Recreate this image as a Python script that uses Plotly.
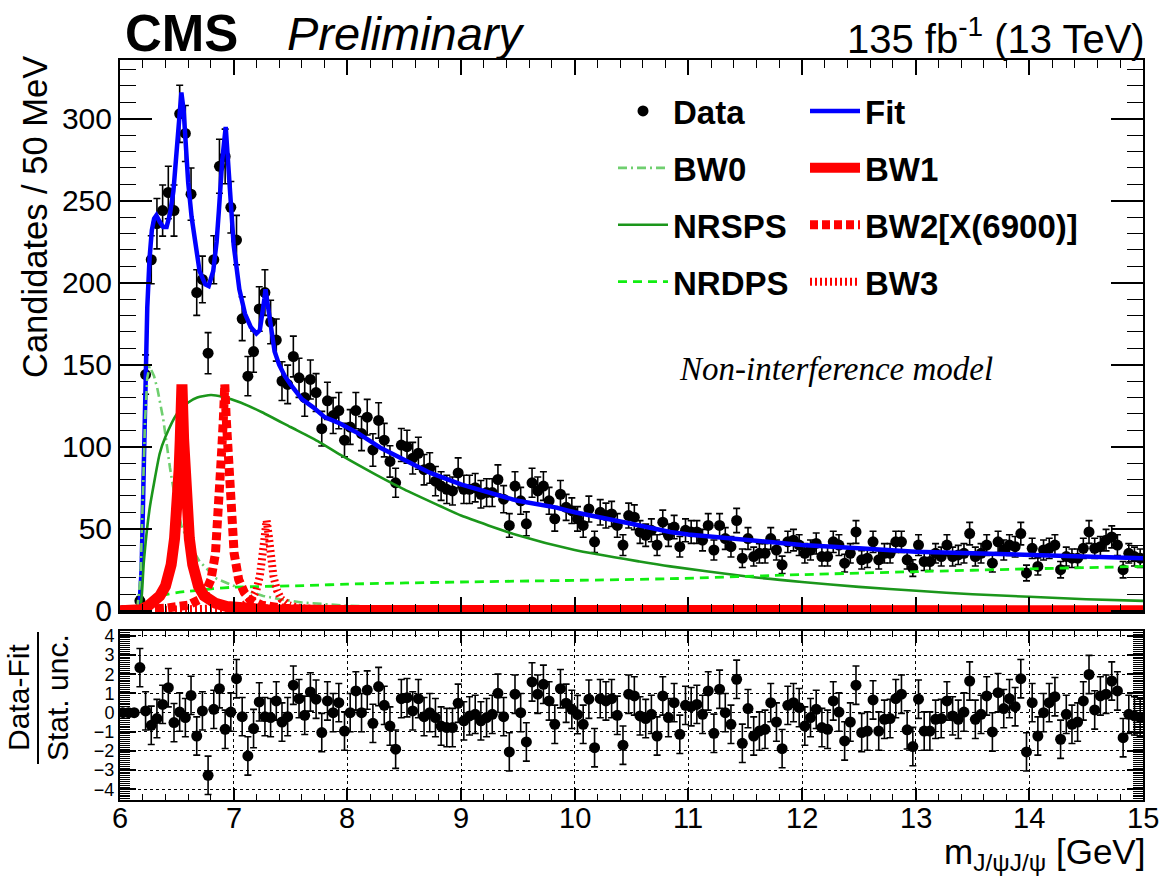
import numpy as np
import plotly.graph_objects as go

# ---------------- data ----------------
x_lo, x_hi, bin_w = 6.0, 15.0, 0.05

counts = [0, 0, 0, 6, 144, 214, 236, 244, 255, 244,
          303, 291, 254, 194, 202, 157, 214, 271, 277, 246,
          226, 178, 143, 158, 184, 194, 176, 165, 140, 138,
          155, 142, 130, 141, 133, 111, 128, 119, 122, 104,
          112, 122, 108, 118, 98, 116, 104, 91, 78, 101,
          100, 93, 96, 86, 87, 79, 76, 74, 73, 84,
          74, 74, 75, 71, 72, 72, 80, 68, 52, 76,
          67, 53, 78, 73, 76, 67, 56, 71, 63, 61,
          56, 52, 62, 42, 60, 58, 59, 52, 40, 58,
          57, 48, 46, 49, 40, 54, 46, 51, 39, 49,
          48, 48, 43, 52, 37, 52, 44, 39, 55, 32,
          44, 33, 35, 35, 44, 37, 28, 42, 43, 40,
          35, 37, 41, 33, 33, 42, 40, 29, 35, 48,
          31, 32, 42, 31, 35, 35, 42, 42, 31, 26,
          40, 30, 30, 35, 33, 40, 33, 34, 35, 47,
          33, 35, 40, 29, 42, 37, 40, 39, 47, 23,
          38, 27, 37, 38, 40, 25, 33, 32, 32, 38,
          48, 38, 39, 43, 45, 40, 25, 35, 33, 32]

pulls = [0, 0, 0, 2.35, 0.09, -0.66, -0.31, 0.43, 1.30, -0.52,
         0.03, -0.26, 0.90, -1.22, 0.09, -3.27, 0.17, 1.25, -0.87, 0.03,
         1.77, -0.21, -2.26, -0.83, 0.56, -0.21, -0.26, 0.61, -0.49, -0.21,
         1.43, 0.73, -0.14, 1.08, 0.70, -1.04, 0.61, 0.00, 0.52, -0.96,
         0.00, 1.13, 0.00, 1.18, -0.56, 1.36, 0.38, -0.70, -1.91, 0.73,
         0.78, 0.09, 0.73, -0.21, 0.00, -0.26, -0.70, -0.78, -0.78, 0.49,
         -0.43, -0.17, -0.09, -0.43, -0.26, -0.09, 1.01, -0.21, -2.05, 0.96,
         0.00, -1.53, 1.60, 0.96, 1.48, 0.61, -0.61, 1.25, 0.49, 0.17,
         -0.10, -0.61, 0.70, -1.83, 0.73, 0.61, 0.73, -0.14, -1.70, 0.96,
         0.87, -0.17, -0.31, -0.09, -1.22, 0.87, -0.26, 0.52, -1.13, 0.38,
         0.31, 0.43, -0.09, 1.13, -1.08, 1.22, 0.00, -0.61, 1.74, -1.60,
         0.21, -1.22, -0.96, -0.87, 0.52, -0.49, -1.88, 0.38, 0.52, 0.26,
         -0.70, -0.26, 0.17, -0.78, -0.87, 0.61, 0.03, -1.48, -0.49, 1.43,
         -1.04, -0.96, 0.66, -0.96, -0.35, -0.31, 0.73, 0.96, -0.90, -1.77,
         0.70, -0.96, -0.96, -0.35, -0.31, 0.61, -0.17, -0.35, 0.03, 1.65,
         -0.35, -0.09, 0.87, -1.01, 1.04, 0.21, 0.73, 0.31, 1.77, -2.05,
         0.52, -1.22, 0.00, 0.52, 0.83, -1.39, -0.09, -0.61, -0.49, 0.61,
         1.99, 0.14, 0.87, 0.96, 1.65, 1.13, -1.31, -0.09, -0.17, -0.26]

fit_x = [6.00, 6.15, 6.17, 6.19, 6.21, 6.225, 6.24, 6.26, 6.28, 6.30,
         6.32, 6.35, 6.38, 6.41, 6.44, 6.47, 6.50, 6.52, 6.54, 6.56,
         6.58, 6.60, 6.63, 6.65, 6.70, 6.75, 6.78, 6.82, 6.85, 6.87,
         6.90, 6.93, 6.96, 6.98, 7.00, 7.05, 7.10, 7.15, 7.20, 7.23,
         7.25, 7.27, 7.28, 7.30, 7.32, 7.36, 7.40, 7.45, 7.50, 7.60,
         7.70, 7.80, 7.94, 8.10, 8.30, 8.50, 8.73, 9.00, 9.25, 9.50,
         9.83, 10.0, 10.5, 10.84, 11.0, 11.5, 12.0, 12.5, 13.0, 13.5,
         14.0, 14.5, 15.0]
fit_y = [0, 0, 1, 25, 90, 144, 185, 215, 232, 239,
         241, 237, 234, 234, 242, 256, 280, 300, 316, 305,
         282, 261, 240, 230, 207, 199, 198, 207, 225, 244,
         275, 295, 261, 240, 223, 196, 181, 173, 169, 171,
         179, 190, 196, 186, 174, 158, 150, 143, 138, 129,
         124, 118, 114, 108, 99, 92, 84, 77, 72, 67,
         63, 60, 53, 48, 46.5, 43, 40, 38, 36, 35,
         34, 33, 32]

bw0_x = [6.0, 6.15, 6.18, 6.20, 6.22, 6.24, 6.26, 6.30, 6.33, 6.38, 6.44, 6.49,
         6.54, 6.60, 6.70, 6.85, 7.06, 7.26, 7.41, 7.60, 8.0, 9.0, 10.0, 15.0]
bw0_y = [0, 0, 20, 65, 115, 142, 149, 143, 135, 117, 87, 66,
         52, 42, 30, 19.5, 13.4, 9, 7, 5, 3, 1, 0.3, 0]

nrsps_x = [6.0, 6.17, 6.19, 6.21, 6.26, 6.30, 6.35, 6.40, 6.50, 6.60,
           6.68, 6.80, 6.90, 7.06, 7.25, 7.50, 7.75, 7.94, 8.25, 8.50,
           8.81, 9.0, 9.5, 10.0, 10.57, 10.84, 11.5, 12.0, 12.5, 13.04,
           13.5, 14.0, 14.5, 15.0]
nrsps_y = [0, 0, 8, 30, 62, 78, 96, 106, 120, 127,
           130, 131.5, 130.5, 127, 121, 112, 103, 95, 83, 74,
           64, 58, 46, 37, 30, 27, 21, 17.5, 14.5, 12,
           10, 8.5, 7, 6]

nrdps_x = [6.0, 6.15, 6.18, 6.25, 6.38, 6.50, 6.82, 7.0, 7.67, 8.0, 9.0, 10.0,
           10.84, 12.0, 13.0, 14.0, 15.0]
nrdps_y = [0, 0, 2, 5, 9.3, 11, 13.4, 14.3, 15.4, 16.2, 17.5, 18.5,
           19.5, 22, 23.8, 25.5, 27]

bw1_x = [6.0, 6.18, 6.25, 6.35, 6.40, 6.45, 6.48, 6.50, 6.52, 6.53, 6.545, 6.56,
         6.57, 6.59, 6.61, 6.64, 6.69, 6.74, 6.84, 6.94, 7.05, 7.3, 7.6, 8.0, 15.0]
bw1_y = [0, 0.5, 3.0, 9, 15, 28, 44, 60, 86, 104, 138, 104,
         86, 60, 44, 28, 15, 9, 4.5, 2.5, 1.5, 0.6, 0.3, 0.1, 0]

bw2_x = [6.0, 6.2, 6.4, 6.6, 6.7, 6.75, 6.80, 6.84, 6.87, 6.895, 6.91, 6.922,
         6.934, 6.949, 6.974, 7.004, 7.044, 7.094, 7.144, 7.244, 7.45, 7.8, 15.0]
bw2_y = [0, 0.5, 1.5, 3.4, 6.8, 11, 19, 35, 62, 98, 118, 138,
         118, 98, 62, 35, 19, 11, 6.8, 3.4, 1.4, 0.5, 0]

bw3_x = [6.0, 6.8, 6.99, 7.09, 7.16, 7.20, 7.23, 7.25, 7.27, 7.29,
         7.31, 7.33, 7.35, 7.38, 7.42, 7.49, 7.59, 8.0, 15.0]
bw3_y = [0, 0.3, 1.5, 3.2, 7, 12.5, 21, 32, 45, 55,
         45, 32, 21, 12.5, 7, 3.2, 1.5, 0.3, 0]

x_tick_vals = [6, 7, 8, 9, 10, 11, 12, 13, 14, 15]
x_tick_text = ["6", "7", "8", "9", "10", "11", "12", "13", "14", "15"]

# ---------------- derived ----------------
centers = x_lo + bin_w * (np.arange(len(counts)) + 0.5)
cnt = np.array(counts, dtype=float)
cnt_err = np.sqrt(cnt)
pull_err = [0.0 if c == 0 else 1.0 for c in counts]

FONT = "Liberation Sans, Arial, Helvetica, sans-serif"
W, H = 1161, 879
ML, MR, MT, MB = 120, 18, 60, 79
PW, PH = W - ML - MR, H - MT - MB


def px2x(px):
    return (px - ML) / PW


def px2y(py):
    return (H - MB - py) / PH


main_bottom = px2y(612)
pull_top = px2y(631)

fig = go.Figure()

# data
fig.add_trace(go.Scatter(
    x=centers, y=cnt, mode="markers", name="<b>Data</b>",
    marker=dict(color="black", size=11),
    error_y=dict(type="data", array=cnt_err, color="black", thickness=1.6, width=3.5),
    legend="legend", legendgroup="data", xaxis="x", yaxis="y"))

# fit
fig.add_trace(go.Scatter(
    x=fit_x, y=fit_y, mode="lines", name="<b>Fit</b>",
    line=dict(color="#0000ff", width=4.5),
    legend="legend2", legendgroup="fit", xaxis="x", yaxis="y"))

fig.add_trace(go.Scatter(
    x=bw0_x, y=bw0_y, mode="lines", name="<b>BW0</b>",
    line=dict(color="#6fcf6f", width=2.6, dash="9px,4px,2px,4px"),
    legend="legend", legendgroup="bw0", xaxis="x", yaxis="y"))

fig.add_trace(go.Scatter(
    x=nrsps_x, y=nrsps_y, mode="lines", name="<b>NRSPS</b>",
    line=dict(color="#1b961b", width=2.6, shape="spline", smoothing=0.6),
    legend="legend", legendgroup="nrsps", xaxis="x", yaxis="y"))

fig.add_trace(go.Scatter(
    x=nrdps_x, y=nrdps_y, mode="lines", name="<b>NRDPS</b>",
    line=dict(color="#11ee11", width=2.8, dash="9px,6px", shape="spline", smoothing=0.6),
    legend="legend", legendgroup="nrdps", xaxis="x", yaxis="y"))

fig.add_trace(go.Scatter(
    x=bw1_x, y=bw1_y, mode="lines", name="<b>BW1</b>",
    line=dict(color="#ff0000", width=11),
    legend="legend2", legendgroup="bw1", xaxis="x", yaxis="y"))

fig.add_trace(go.Scatter(
    x=bw2_x, y=bw2_y, mode="lines", name="<b>BW2[X(6900)]</b>",
    line=dict(color="#ff0000", width=9, dash="8px,4px"),
    legend="legend2", legendgroup="bw2", xaxis="x", yaxis="y"))

fig.add_trace(go.Scatter(
    x=bw3_x, y=bw3_y, mode="lines", name="<b>BW3</b>",
    line=dict(color="#ff0000", width=8, dash="2px,3px"),
    legend="legend2", legendgroup="bw3", xaxis="x", yaxis="y"))

# pulls
fig.add_trace(go.Scatter(
    x=centers, y=pulls, mode="markers", showlegend=False,
    marker=dict(color="black", size=11),
    error_y=dict(type="data", array=pull_err, color="black", thickness=1.6, width=3.5),
    xaxis="x2", yaxis="y2"))

axis_common = dict(showline=True, linecolor="black", linewidth=2, mirror="ticks",
                   ticks="inside", tickcolor="black", zeroline=False)

legend_common = dict(bgcolor="rgba(0,0,0,0)", borderwidth=0,
                     font=dict(family=FONT, size=33, color="black"),
                     itemwidth=50, tracegroupgap=11, traceorder="grouped",
                     xanchor="left", yanchor="top")

fig.update_layout(
    width=W, height=H,
    margin=dict(l=ML, r=MR, t=MT, b=MB),
    paper_bgcolor="white", plot_bgcolor="white",
    font=dict(family=FONT, color="black"),
    hovermode=False,
    xaxis=dict(domain=[0, 1], range=[x_lo, x_hi], anchor="y", dtick=1,
               ticklen=15, tickwidth=1.5, showticklabels=False, showgrid=False,
               minor=dict(dtick=0.2, ticklen=8, ticks="inside", tickcolor="black",
                          tickwidth=1.2, showgrid=False),
               **axis_common),
    yaxis=dict(domain=[main_bottom, 1], range=[-0.8, 335.8], anchor="x",
               dtick=50, ticklen=32, tickwidth=1.5, showgrid=False,
               tickfont=dict(family=FONT, size=30, color="black"),
               minor=dict(dtick=10, ticklen=16, ticks="inside", tickcolor="black",
                          tickwidth=1.2, showgrid=False),
               **axis_common),
    xaxis2=dict(domain=[0, 1], range=[x_lo, x_hi], anchor="y2",
                tickvals=x_tick_vals, showticklabels=False,
                ticklen=12, tickwidth=1.5, showgrid=True, gridcolor="black",
                griddash="dot", gridwidth=1,
                minor=dict(dtick=0.2, ticklen=6, ticks="inside", tickcolor="black",
                           tickwidth=1.2, showgrid=False),
                **axis_common),
    yaxis2=dict(domain=[0, pull_top], range=[-4.56, 4.26], anchor="x2",
                dtick=1, ticklen=16, tickwidth=1.5, showgrid=True,
                gridcolor="black", griddash="dot", gridwidth=1,
                tickfont=dict(family=FONT, size=18, color="black"),
                minor=dict(dtick=0.1, ticklen=10, ticks="inside", tickcolor="black",
                           tickwidth=1.0, showgrid=False),
                **axis_common),
    legend=dict(x=px2x(613), y=px2y(83), **legend_common),
    legend2=dict(x=px2x(805), y=px2y(83), **legend_common),
)

annotations = [
    dict(text="<b>CMS</b>", x=px2x(123), y=px2y(34), xanchor="left", yanchor="middle",
         font=dict(family=FONT, size=51, color="black")),
    dict(text="<i>Preliminary</i>", x=px2x(285), y=px2y(34), xanchor="left", yanchor="middle",
         font=dict(family=FONT, size=47, color="black")),
    dict(text="135 fb<sup>-1</sup> (13 TeV)", x=px2x(1147), y=px2y(36), xanchor="right",
         yanchor="middle", font=dict(family=FONT, size=40, color="black")),
    dict(text="Candidates / 50 MeV", x=px2x(35), y=px2y(54), xanchor="center",
         yanchor="top", textangle=-90, font=dict(family=FONT, size=34.5, color="black")),
    dict(text="m<sub>J/ψJ/ψ</sub> [GeV]", x=px2x(1147), y=px2y(854), xanchor="right",
         yanchor="middle", font=dict(family=FONT, size=35, color="black")),
    dict(text="Data-Fit<br>Stat. unc.", x=px2x(38), y=px2y(698), xanchor="center",
         yanchor="middle", textangle=-90, font=dict(family=FONT, size=30, color="black")),
    dict(text="<i>Non-interference model</i>", x=px2x(836), y=px2y(369),
         xanchor="center", yanchor="middle",
         font=dict(family="Liberation Serif, Times New Roman, serif", size=33, color="black")),
]
for a in annotations:
    a.update(xref="paper", yref="paper", showarrow=False)

# x tick labels of the pull axis, placed on the axis scale
for v, t in zip(x_tick_vals, x_tick_text):
    annotations.append(dict(text=t, x=v, xref="x2", y=px2y(818), yref="paper",
                            xanchor="center", yanchor="middle", showarrow=False,
                            font=dict(family=FONT, size=29, color="black")))

fig.update_layout(annotations=annotations)

# fraction bar of the pull-axis title
fig.add_shape(type="line", xref="paper", yref="paper",
              x0=px2x(38), x1=px2x(38), y0=px2y(632), y1=px2y(764),
              line=dict(color="black", width=2))

fig.write_html("out.html")
